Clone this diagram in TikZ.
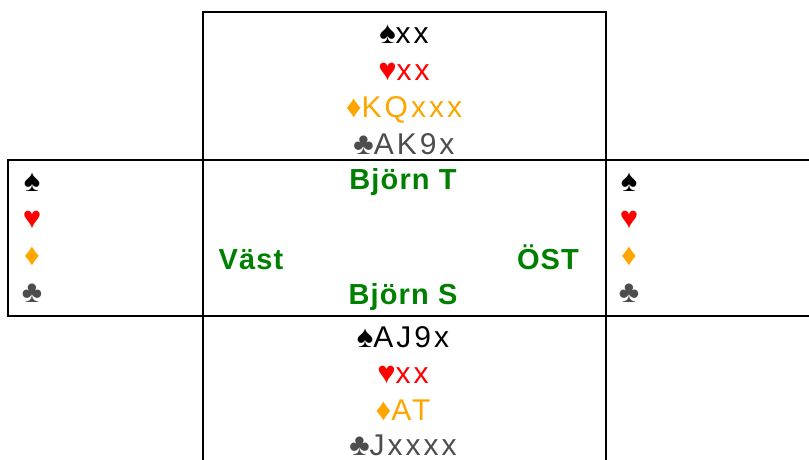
\documentclass[tikz,border=0pt]{standalone}
\usepackage{fontspec}
\setmainfont{Liberation Sans}[LetterSpace=10]
\definecolor{heartred}{RGB}{255,0,0}
\definecolor{diamondorange}{RGB}{255,165,0}
\definecolor{clubgrey}{RGB}{77,77,77}
\definecolor{namegreen}{RGB}{0,128,0}
\newcommand{\bigsuit}[1]{{\fontsize{31}{31}\selectfont\addfontfeature{LetterSpace=4}#1}}
\tikzset{
    hand/.style = {anchor = base, inner sep = 0pt, font = \fontsize{30}{36}\selectfont},
    player/.style = {anchor = base, inner sep = 0pt, color = namegreen, font = \fontsize{29}{34}\selectfont\bfseries\addfontfeature{LetterSpace=4}},
    frame/.style = {line width = 2.3pt}
}
\begin{document}
\begin{tikzpicture}[x = 1pt, y = -1pt]
        \clip (0, 0) rectangle (809, 459);
        \draw [frame] (203, 12) rectangle (606, 160);
        \draw [frame] (8, 160) rectangle (815, 316);
        \draw [frame] (203, 160) to (203, 316);
        \draw [frame] (606, 160) to (606, 316);
        \draw [frame] (203, 470) to (203, 316) to (606, 316) to (606, 470);
        % Nord
        \node [hand] at (404, 43) (ns) {\bigsuit{♠}xx};
        \node [hand, color = heartred] at (404, 80) (nh) {\bigsuit{♥}xx};
        \node [hand, color = diamondorange] at (404, 117) (nd) {\bigsuit{♦}KQxxx};
        \node [hand, color = clubgrey] at (404, 154) (nc) {\bigsuit{♣}AK9x};
        % Syd
        \node [hand] at (403, 347) (ss) {\bigsuit{♠}AJ9x};
        \node [hand, color = heartred] at (403, 383) (sh) {\bigsuit{♥}xx};
        \node [hand, color = diamondorange] at (403, 420) (sd) {\bigsuit{♦}AT};
        \node [hand, color = clubgrey] at (403, 455) (sc) {\bigsuit{♣}Jxxxx};
        % Väst
        \node [hand] at (32, 191) (ws) {\bigsuit{♠}};
        \node [hand, color = heartred] at (32, 228) (wh) {\bigsuit{♥}};
        \node [hand, color = diamondorange] at (32, 265) (wd) {\bigsuit{♦}};
        \node [hand, color = clubgrey] at (32, 302) (wc) {\bigsuit{♣}};
        % Öst
        \node [hand] at (629, 191) (es) {\bigsuit{♠}};
        \node [hand, color = heartred] at (629, 228) (eh) {\bigsuit{♥}};
        \node [hand, color = diamondorange] at (629, 265) (ed) {\bigsuit{♦}};
        \node [hand, color = clubgrey] at (629, 302) (ec) {\bigsuit{♣}};
        % spelare
        \node [player] at (403, 189) (north) {Björn T};
        \node [player] at (403, 304) (south) {Björn S};
        \node [player] at (251, 269) (west) {Väst};
        \node [player] at (548, 269) (east) {ÖST};
\end{tikzpicture}
\end{document}
